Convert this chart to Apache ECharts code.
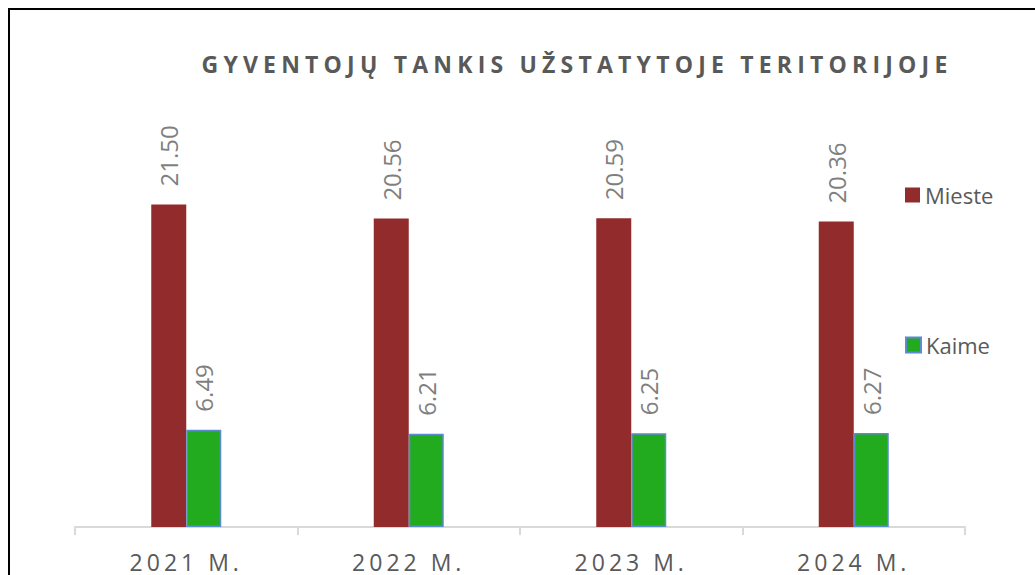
<!DOCTYPE html>
<html>
<head>
<meta charset="utf-8">
<script src="https://cdn.jsdelivr.net/npm/echarts@6/dist/echarts.min.js"></script>
<style>
  html, body { margin: 0; padding: 0; background: #fff; }
  #wrap { position: relative; width: 1035px; height: 575px; overflow: hidden; }
  #frame { position: absolute; left: 8px; top: 8px; width: 1200px; height: 700px;
           border-left: 2px solid #000; border-top: 2px solid #000; }
  #chart { position: absolute; left: 0; top: 0; width: 1035px; height: 575px; }
</style>
</head>
<body>
<div id="wrap">
  <div id="frame"></div>
  <div id="chart"></div>
</div>
<script>
const categories = ['2021 M.', '2022 M.', '2023 M.', '2024 M.']
const mieste = [21.50, 20.56, 20.59, 20.36]
const kaime = [6.49, 6.21, 6.25, 6.27]
const titleText = 'GYVENTOJŲ TANKIS UŽSTATYTOJE TERITORIJOJE'

const myChart = echarts.init(document.getElementById('chart'), null, { renderer: 'svg' })

const labelCfg = {
    show: true,
    position: 'top',
    rotate: 90,
    align: 'left',
    verticalAlign: 'middle',
    distance: 18,
    color: '#7f7f7f',
    fontFamily: 'Open Sans',
    fontSize: 24,
    formatter: p => p.value.toFixed(2)
}

const legendText = { color: '#595959', fontFamily: 'Open Sans', fontSize: 22 }

myChart.setOption({
    animation: false,
    title: {
        text: titleText,
        left: 572,
        top: 47,
        textAlign: 'center',
        textStyle: { color: '#595959', fontFamily: 'Open Sans', fontWeight: 'bold', fontSize: 23 }
    },
    legend: [
        {
            data: ['Mieste'], orient: 'vertical', left: 900, top: 179,
            itemWidth: 15, itemHeight: 15, icon: 'rect', textStyle: legendText
        },
        {
            data: ['Kaime'], orient: 'vertical', left: 900, top: 329,
            itemWidth: 15, itemHeight: 15, icon: 'rect', textStyle: legendText
        }
    ],
    grid: { left: 75, right: 70, top: 152, bottom: 48, containLabel: false },
    xAxis: {
        type: 'category',
        data: categories,
        axisLine: { lineStyle: { color: '#d9d9d9', width: 2 } },
        axisTick: { show: true, length: 8, lineStyle: { color: '#d9d9d9', width: 2 } },
        axisLabel: { color: '#595959', fontFamily: 'Open Sans', fontSize: 23, margin: 23 }
    },
    yAxis: { type: 'value', min: 0, max: 25, show: false },
    series: [
        {
            name: 'Mieste', type: 'bar', data: mieste, barWidth: 35, barGap: '0%',
            itemStyle: { color: '#922b2b' },
            label: labelCfg
        },
        {
            name: 'Kaime', type: 'bar', data: kaime, barWidth: 35,
            itemStyle: { color: '#22ab1f', borderColor: '#5b8bd0', borderWidth: 1.5 },
            label: labelCfg
        }
    ]
})

// spaced caps like the original: title and year labels
const spaceOut = () => {
    document.querySelectorAll('#chart text').forEach(t => {
        const s = t.textContent
        if (s === titleText) t.style.letterSpacing = '5.2px'
        else if (categories.includes(s)) t.style.letterSpacing = '4px'
    })
}
spaceOut()
myChart.on('finished', spaceOut)
</script>
</body>
</html>
